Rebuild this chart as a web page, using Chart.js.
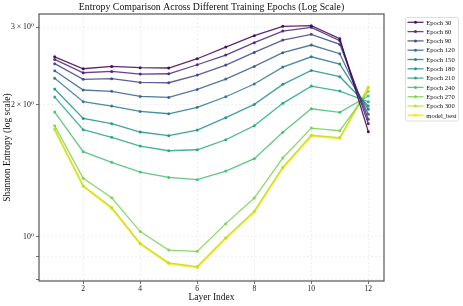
<!DOCTYPE html>
<html>
<head>
<meta charset="utf-8">
<script src="https://cdn.jsdelivr.net/npm/chart.js@4.4.1/dist/chart.umd.min.js"></script>
<style>
  html, body { margin: 0; padding: 0; background: #fff; }
  #wrap { width: 463px; height: 306px; }
</style>
</head>
<body>
<div id="wrap"><canvas id="myChart" width="463" height="306"></canvas></div>
<script>
// values (log scale y)
const layers = [1, 2, 3, 4, 5, 6, 7, 8, 9, 10, 11, 12];
const xTicks = [2, 4, 6, 8, 10, 12];
const yTicks = [0.8, 0.9, 1, 2, 3];
const yTickLabels = { 1: '10\u2070', 2: '2 \u00d7 10\u2070', 3: '3 \u00d7 10\u2070' };

const seriesNames = ['Epoch 30', 'Epoch 60', 'Epoch 90', 'Epoch 120', 'Epoch 150',
    'Epoch 180', 'Epoch 210', 'Epoch 240', 'Epoch 270', 'Epoch 300', 'model_best'];

const epoch30 = [2.570, 2.414, 2.444, 2.427, 2.423, 2.544, 2.705, 2.871, 3.015, 3.026, 2.826, 1.735];
const epoch60 = [2.535, 2.364, 2.380, 2.347, 2.351, 2.465, 2.594, 2.767, 2.942, 2.999, 2.797, 1.809];
const epoch90 = [2.479, 2.283, 2.291, 2.247, 2.243, 2.335, 2.461, 2.630, 2.806, 2.891, 2.743, 1.851];
const epoch120 = [2.389, 2.159, 2.144, 2.088, 2.077, 2.166, 2.287, 2.444, 2.626, 2.734, 2.612, 1.900];
const epoch150 = [2.295, 2.030, 1.985, 1.930, 1.906, 1.971, 2.084, 2.228, 2.435, 2.570, 2.474, 1.951];
const epoch180 = [2.170, 1.860, 1.809, 1.732, 1.699, 1.750, 1.867, 2.002, 2.224, 2.393, 2.315, 1.985];
const epoch210 = [2.080, 1.753, 1.684, 1.609, 1.570, 1.578, 1.663, 1.790, 2.013, 2.204, 2.147, 2.030];
const epoch240 = [1.923, 1.562, 1.477, 1.404, 1.365, 1.349, 1.411, 1.506, 1.729, 1.957, 1.920, 2.092];
const epoch270 = [1.790, 1.358, 1.227, 1.027, 0.932, 0.926, 1.071, 1.225, 1.511, 1.768, 1.744, 2.144];
const epoch300 = [1.760, 1.307, 1.165, 0.966, 0.872, 0.855, 0.995, 1.143, 1.440, 1.703, 1.682, 2.185];
const modelBest = [1.750, 1.302, 1.160, 0.962, 0.868, 0.851, 0.990, 1.138, 1.434, 1.696, 1.675, 2.196];

const allSeries = [epoch30, epoch60, epoch90, epoch120, epoch150, epoch180,
    epoch210, epoch240, epoch270, epoch300, modelBest];

// viridis, 11 steps
const colors = ['#440154', '#482475', '#414487', '#355f8d', '#2a788e', '#21918c',
    '#22a884', '#44bf70', '#7ad151', '#bddf26', '#fde725'];

function alpha(hex, a) {
    const n = parseInt(hex.slice(1), 16);
    return `rgba(${n >> 16}, ${(n >> 8) & 255}, ${n & 255}, ${a})`;
}

const serif = "'Liberation Serif', 'DejaVu Serif', serif";

const datasets = allSeries.map((vals, i) => {
    const best = seriesNames[i] === 'model_best';
    return {
        label: seriesNames[i],
        data: vals.map((v, j) => ({ x: layers[j], y: v })),
        borderColor: alpha(colors[i], 0.85),
        backgroundColor: alpha(colors[i], 0.9),
        borderWidth: best ? 2 : 1.3,
        pointRadius: 1.5,
        pointBorderWidth: 0,
        tension: 0
    };
});

// frame, title and legend box like matplotlib
const extras = {
    id: 'extras',
    afterDraw(chart) {
        const { ctx, chartArea: a } = chart;
        ctx.save();
        ctx.strokeStyle = '#555';
        ctx.lineWidth = 1.2;
        ctx.strokeRect(a.left, a.top, a.right - a.left, a.bottom - a.top);

        ctx.fillStyle = '#111';
        ctx.font = `9.8px ${serif}`;
        ctx.textAlign = 'center';
        ctx.textBaseline = 'middle';
        ctx.fillText('Entropy Comparison Across Different Training Epochs (Log Scale)',
            (a.left + a.right) / 2, 7.5);

        // legend
        const lx = 405.5, ly = 17.5, lw = 53, lh = 103.5;
        ctx.strokeStyle = '#d5d5d5';
        ctx.lineWidth = 0.8;
        ctx.beginPath();
        ctx.roundRect(lx, ly, lw, lh, 2);
        ctx.fillStyle = 'rgba(255,255,255,0.85)';
        ctx.fill();
        ctx.stroke();
        ctx.font = `6.6px ${serif}`;
        ctx.textAlign = 'left';
        chart.data.datasets.forEach((ds, i) => {
            const y = 22.3 + i * 9.3;
            ctx.strokeStyle = ds.borderColor;
            ctx.lineWidth = ds.borderWidth;
            ctx.beginPath();
            ctx.moveTo(407.5, y);
            ctx.lineTo(423.5, y);
            ctx.stroke();
            ctx.fillStyle = ds.backgroundColor;
            ctx.beginPath();
            ctx.arc(415.5, y, 1.5, 0, Math.PI * 2);
            ctx.fill();
            ctx.fillStyle = '#111';
            ctx.fillText(ds.label, 426.3, y + 0.5);
        });
        ctx.restore();
    }
};

const config = {
    type: 'line',
    data: { datasets: datasets },
    options: {
        responsive: false,
        animation: false,
        layout: { padding: { top: 14, right: 79, left: 0, bottom: 0 } },
        plugins: {
            legend: { display: false },
            title: { display: false },
            tooltip: { enabled: false }
        },
        scales: {
            x: {
                type: 'linear',
                min: 0.45,
                max: 12.55,
                afterBuildTicks: scale => { scale.ticks = xTicks.map(v => ({ value: v })); },
                afterFit: scale => { scale.height = 25; },
                ticks: {
                    color: '#222',
                    padding: 1,
                    maxRotation: 0,
                    font: { family: serif, size: 7.5 }
                },
                grid: {
                    color: 'rgba(0,0,0,0.09)',
                    tickColor: '#333',
                    tickLength: 3,
                    lineWidth: 0.7
                },
                border: { display: false, dash: [2, 2] },
                title: {
                    display: true,
                    text: 'Layer Index',
                    color: '#111',
                    font: { family: serif, size: 9.5 },
                    padding: { top: 0, bottom: 3 }
                }
            },
            y: {
                type: 'logarithmic',
                min: 0.7926,
                max: 3.217,
                afterBuildTicks: scale => { scale.ticks = yTicks.map(v => ({ value: v })); },
                afterFit: scale => { scale.width = 39; },
                ticks: {
                    color: '#222',
                    padding: 2,
                    autoSkip: false,
                    font: { family: serif, size: 7.8 },
                    callback: v => yTickLabels[v] || ''
                },
                grid: {
                    color: 'rgba(0,0,0,0.09)',
                    tickColor: '#333',
                    tickLength: 3,
                    lineWidth: 0.7
                },
                border: { display: false, dash: [2, 2] },
                title: {
                    display: true,
                    text: 'Shannon Entropy (log scale)',
                    color: '#111',
                    font: { family: serif, size: 9.5 },
                    padding: { top: 2, bottom: 0 }
                }
            }
        }
    },
    plugins: [extras]
};

const chart = new Chart(document.getElementById('myChart'), config);
</script>
</body>
</html>
